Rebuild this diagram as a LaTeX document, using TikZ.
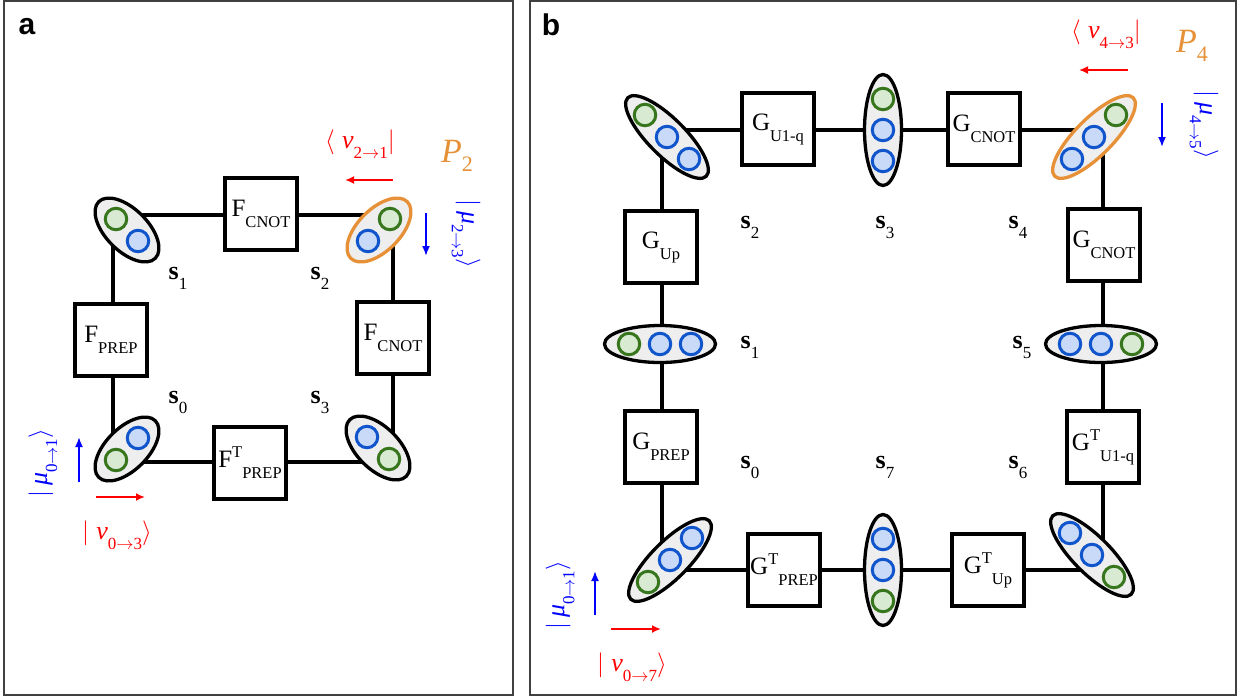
\documentclass[tikz,border=0pt]{standalone}
\usepackage{fontspec}
\setmainfont{Liberation Serif}
\newfontfamily\panelfont{Liberation Sans}
\usetikzlibrary{shapes.geometric,arrows.meta}
\definecolor{cgreen}{HTML}{38761D}
\definecolor{cgreenf}{HTML}{D9EAD3}
\definecolor{cblue}{HTML}{1155CC}
\definecolor{cbluef}{HTML}{C9DAF8}
\definecolor{corange}{HTML}{E69138}
\definecolor{cgray}{HTML}{EEEEEE}
\definecolor{cframe}{HTML}{404040}
\definecolor{cred}{HTML}{FF0000}
\definecolor{cbl}{HTML}{0000FF}
\newcommand\lsub[1]{\raisebox{-11pt}{\fontsize{16.5}{16}\selectfont #1}}
\newcommand\lsup[1]{\raisebox{10pt}{\fontsize{16.5}{16}\selectfont #1}}
\newcommand\ksub[1]{\raisebox{-10pt}{\fontsize{17}{16}\selectfont #1}}
\begin{document}
\begin{tikzpicture}[x=1pt,y=-1pt,
  frame/.style={draw=cframe,line width=1.5pt},
  panellab/.style={font=\panelfont\bfseries\fontsize{30}{32}\selectfont},
  wire/.style={line width=3.3pt},
  gbox/.style={draw,line width=3.3pt,fill=white,minimum width=72pt,minimum height=72pt,inner sep=0pt,font=\fontsize{25}{28}\selectfont},
  oval/.style={ellipse,draw,line width=3.3pt,fill=cgray,inner sep=0pt},
  oval2/.style={oval,minimum width=80pt,minimum height=42pt},
  oval3/.style={oval,minimum width=111pt,minimum height=37pt},
  gq/.style={circle,draw=cgreen,fill=cgreenf,line width=3pt,minimum size=21.5pt,inner sep=0pt},
  bq/.style={circle,draw=cblue,fill=cbluef,line width=3pt,minimum size=21.5pt,inner sep=0pt},
  slab/.style={font=\fontsize{26}{28}\selectfont,anchor=base,inner sep=0pt},
  redlab/.style={text=cred,font=\fontsize{26}{28}\selectfont,anchor=base,inner sep=0pt},
  bluelab/.style={text=cbl,font=\fontsize{26}{28}\selectfont,inner sep=0pt},
  plab/.style={text=corange,font=\fontsize{34}{36}\selectfont,anchor=base,inner sep=0pt},
  redarr/.style={draw=cred,line width=1.8pt,-{Latex[length=9pt,width=8pt]}},
  bluearr/.style={draw=cbl,line width=1.8pt,-{Latex[length=10pt,width=8pt]}}
]
\useasboundingbox (0,0) rectangle (1240,697);
\draw[frame] (4,1) rectangle (513,695);
\draw[frame] (530,1) rectangle (1236,695);
\node[panellab] (la) at (27,27) {a};
\node[panellab] (lb) at (551,25) {b};

% ---------------- panel a ----------------
\coordinate (a0) at (113,462);
\coordinate (a1) at (113,215);
\coordinate (a2) at (393,215);
\coordinate (a3) at (393,462);
\draw[wire] (a0) -- (a1) -- (a2) -- (a3) -- cycle;

\node[gbox] (fcnotT) at (261,214) {F\lsub{CNOT}};
\node[gbox] (fprep) at (111,340) {F\lsub{PREP}};
\node[gbox] (fcnotR) at (393,338) {F\lsub{CNOT}};
\node[gbox] (fprepT) at (250,463) {F\lsup{T}\lsub{PREP}};

\node[oval2,rotate=-45] (ea1) at (127,230) {};
\node[gq] (ea1g) at (116,219) {};
\node[bq] (ea1b) at (138,241) {};

\node[oval2,rotate=45,draw=corange] (ea2) at (379,230) {};
\node[bq] (ea2b) at (368,241) {};
\node[gq] (ea2g) at (390,219) {};

\node[oval2,rotate=45] (ea0) at (127,449) {};
\node[gq] (ea0g) at (116,460) {};
\node[bq] (ea0b) at (138,438) {};

\node[oval2,rotate=-45] (ea3) at (378,448) {};
\node[bq] (ea3b) at (367,437) {};
\node[gq] (ea3g) at (389,459) {};

\node[slab] (sa1) at (178,279) {\textbf{s}\ksub{1}};
\node[slab] (sa2) at (320,279) {\textbf{s}\ksub{2}};
\node[slab] (sa0) at (178,403) {\textbf{s}\ksub{0}};
\node[slab] (sa3) at (320,403) {\textbf{s}\ksub{3}};

\node[redlab] (vbra21) at (360,148) {$\langle$\;\textit{v}\ksub{2$\rightarrow$1}$|$};
\node[plab] (p2) at (457,162) {\textit{P}\raisebox{-9pt}{\fontsize{22}{22}\selectfont 2}};
\coordinate (ra1s) at (393,180);
\coordinate (ra1e) at (345,180);
\draw[redarr] (ra1s) -- (ra1e);
\coordinate (ba1s) at (426,213);
\coordinate (ba1e) at (426,256);
\draw[bluearr] (ba1s) -- (ba1e);
\node[bluelab,rotate=-90] (mu23) at (466,234) {$|$\,\textit{μ}\ksub{2$\rightarrow$3}$\rangle$};

\node[bluelab,rotate=90] (mu01) at (43,463) {$|$\,\textit{μ}\ksub{0$\rightarrow$1}$\rangle$};
\coordinate (ba0s) at (79,482);
\coordinate (ba0e) at (79,437);
\draw[bluearr] (ba0s) -- (ba0e);
\coordinate (ra0s) at (96,497);
\coordinate (ra0e) at (145,497);
\draw[redarr] (ra0s) -- (ra0e);
\node[redlab] (v03) at (117,539) {$|$\;\textit{v}\ksub{0$\rightarrow$3}$\rangle$};

% ---------------- panel b ----------------
\coordinate (b0) at (662,570);
\coordinate (b2) at (662,130);
\coordinate (b4) at (1103,130);
\coordinate (b6) at (1103,570);
\draw[wire] (b0) -- (b2) -- (b4) -- (b6) -- cycle;

\node[gbox] (gu1q) at (778,129) {G\lsub{U1-q}};
\node[gbox] (gcnotT) at (984,129) {G\lsub{CNOT}};
\node[gbox] (gup) at (661,247) {G\lsub{Up}};
\node[gbox] (gcnotR) at (1104,245) {G\lsub{CNOT}};
\node[gbox] (gprep) at (661,447) {G\lsub{PREP}};
\node[gbox] (gu1qT) at (1103,447) {G\lsup{T}\lsub{U1-q}};
\node[gbox] (gprepT) at (784,570) {G\lsup{T}\lsub{PREP}};
\node[gbox] (gupT) at (988,570) {G\lsup{T}\lsub{Up}};

% top-left
\node[oval3,rotate=-45] (eb2) at (667,137) {};
\node[gq] (eb2a) at (645,115) {};
\node[bq] (eb2b) at (667,137) {};
\node[bq] (eb2c) at (689,159) {};
% s3
\node[oval3,rotate=90] (eb3) at (883,130) {};
\node[gq] (eb3a) at (883,99) {};
\node[bq] (eb3b) at (883,130) {};
\node[bq] (eb3c) at (883,161) {};
% top-right P4
\node[oval3,rotate=45,draw=corange] (eb4) at (1094,137) {};
\node[bq] (eb4a) at (1072,159) {};
\node[bq] (eb4b) at (1094,137) {};
\node[gq] (eb4c) at (1116,115) {};
% s5
\node[oval3] (eb5) at (1101,344) {};
\node[bq] (eb5a) at (1070,344) {};
\node[bq] (eb5b) at (1101,344) {};
\node[gq] (eb5c) at (1132,344) {};
% bottom-right
\node[oval3,rotate=-45] (eb6) at (1092,555) {};
\node[bq] (eb6a) at (1070,533) {};
\node[bq] (eb6b) at (1092,555) {};
\node[gq] (eb6c) at (1114,577) {};
% s7
\node[oval3,rotate=90] (eb7) at (883,570) {};
\node[bq] (eb7a) at (883,539) {};
\node[bq] (eb7b) at (883,570) {};
\node[gq] (eb7c) at (883,601) {};
% bottom-left
\node[oval3,rotate=45] (eb0) at (670,560) {};
\node[gq] (eb0a) at (648,582) {};
\node[bq] (eb0b) at (670,560) {};
\node[bq] (eb0c) at (692,538) {};
% s1
\node[oval3] (eb1) at (660,344) {};
\node[gq] (eb1a) at (629,344) {};
\node[bq] (eb1b) at (660,344) {};
\node[bq] (eb1c) at (691,344) {};

\node[slab] (sb2) at (750,228) {\textbf{s}\ksub{2}};
\node[slab] (sb3) at (885,228) {\textbf{s}\ksub{3}};
\node[slab] (sb4) at (1018,228) {\textbf{s}\ksub{4}};
\node[slab] (sb1) at (750,348) {\textbf{s}\ksub{1}};
\node[slab] (sb5) at (1022,348) {\textbf{s}\ksub{5}};
\node[slab] (sb0) at (750,468) {\textbf{s}\ksub{0}};
\node[slab] (sb7) at (885,468) {\textbf{s}\ksub{7}};
\node[slab] (sb6) at (1018,468) {\textbf{s}\ksub{6}};

\node[redlab] (vbra43) at (1106,38) {$\langle$\;\textit{v}\ksub{4$\rightarrow$3}$|$};
\node[plab] (p4) at (1192,52) {\textit{P}\raisebox{-9pt}{\fontsize{22}{22}\selectfont 4}};
\coordinate (rb4s) at (1128,70);
\coordinate (rb4e) at (1079,70);
\draw[redarr] (rb4s) -- (rb4e);
\coordinate (bb4s) at (1162,103);
\coordinate (bb4e) at (1162,147);
\draw[bluearr] (bb4s) -- (bb4e);
\node[bluelab,rotate=-90] (mu45) at (1204,125) {$|$\,\textit{μ}\ksub{4$\rightarrow$5}$\rangle$};

\node[bluelab,rotate=90] (mu01b) at (560,595) {$|$\,\textit{μ}\ksub{0$\rightarrow$1}$\rangle$};
\coordinate (bb0s) at (595,615);
\coordinate (bb0e) at (595,571);
\draw[bluearr] (bb0s) -- (bb0e);
\coordinate (rb0s) at (611,629);
\coordinate (rb0e) at (661,629);
\draw[redarr] (rb0s) -- (rb0e);
\node[redlab] (v07) at (632,671) {$|$\;\textit{v}\ksub{0$\rightarrow$7}$\rangle$};
\end{tikzpicture}
\end{document}
